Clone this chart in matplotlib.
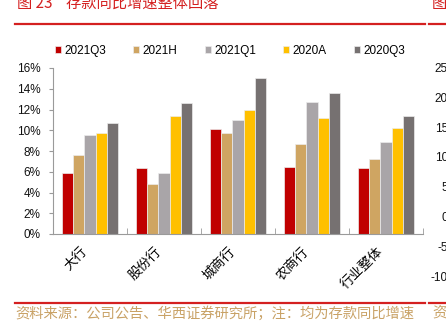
import numpy as np
import matplotlib
matplotlib.use("Agg")
import matplotlib.pyplot as plt
from matplotlib.lines import Line2D
from matplotlib.ticker import FuncFormatter

plt.rcParams['font.family'] = ['Liberation Sans', 'Noto Sans CJK SC', 'DejaVu Sans']

# 数据（存款同比增速）
categories = ['大行', '股份行', '城商行', '农商行', '行业整体']
series_names = ['2021Q3', '2021H', '2021Q1', '2020A', '2020Q3']
v_2021q3 = [0.0592, 0.0634, 0.1014, 0.0644, 0.0634]
v_2021h = [0.0766, 0.0486, 0.0975, 0.0872, 0.0724]
v_2021q1 = [0.0950, 0.0592, 0.1098, 0.1272, 0.0889]
v_2020a = [0.0972, 0.1133, 0.1198, 0.1117, 0.1024]
v_2020q3 = [0.1069, 0.1262, 0.1504, 0.1359, 0.1137]
colors = ['#C00000', '#CFA562', '#A9A5A8', '#FFC000', '#767171']

# 右侧相邻图表的残留刻度
neighbor_ticks = ['25', '20', '15', '10', '5', '0', '-5', '-10']

W, H = 446, 324
fig = plt.figure(figsize=(W / 100, H / 100), dpi=100)
ax = fig.add_axes([53 / W, 1 - 234 / H, 370 / W, 166 / H])

x = np.arange(len(categories))
width = 0.153
all_vals = [v_2021q3, v_2021h, v_2021q1, v_2020a, v_2020q3]
for i, (name, vals, c) in enumerate(zip(series_names, all_vals, colors)):
    ax.bar(x + (i - 2) * width, vals, width, color=c, edgecolor='#ececec',
           linewidth=0.5, label=name)

ax.set_xlim(-0.5, len(categories) - 0.5)
ax.set_ylim(0, 0.16)
ax.set_yticks(np.arange(0, 0.161, 0.02))
ax.yaxis.set_major_formatter(FuncFormatter(lambda v, p: f'{v * 100:.0f}%'))
ax.tick_params(axis='y', direction='out', length=3, color='#9a9a9a',
               labelsize=8.5, pad=6, labelcolor='#111111')

ax.set_xticks(x)
ax.set_xticklabels(categories, rotation=45, ha='right', va='top',
                   fontsize=9.5, family=['Noto Sans CJK SC'])
ax.tick_params(axis='x', which='major', length=0, pad=8)
ax.set_xticks(np.arange(-0.5, len(categories)), minor=True)
ax.tick_params(axis='x', which='minor', direction='in', length=4, color='#9a9a9a')

for s in ['top', 'right']:
    ax.spines[s].set_visible(False)
for s in ['left', 'bottom']:
    ax.spines[s].set_color('#9a9a9a')
    ax.spines[s].set_linewidth(0.8)

ax.legend(loc='center', bbox_to_anchor=(230 / W, 1 - 51 / H),
          bbox_transform=fig.transFigure, ncol=5, frameon=False,
          fontsize=8.5, handlelength=0.5, handleheight=0.5,
          handletextpad=0.3, columnspacing=2.3)

# 标题与分隔线
red = '#D42020'
fig.text(17 / W, 1 - 8 / H, '图 23    存款同比增速整体回落', color=red,
         fontsize=11, family=['Noto Sans CJK SC'], va='baseline', ha='left',
         style='italic')
fig.text(432 / W, 1 - 8 / H, '图', color=red, fontsize=11,
         family=['Noto Sans CJK SC'], va='baseline', ha='left')
fig.add_artist(Line2D([15 / W, 425 / W], [1 - 24 / H] * 2, color=red, lw=1.6,
                      transform=fig.transFigure))
fig.add_artist(Line2D([429 / W, 1], [1 - 24 / H] * 2, color=red, lw=1.6,
                      transform=fig.transFigure))
fig.add_artist(Line2D([15 / W, 425 / W], [1 - 303 / H] * 2, color=red, lw=1.6,
                      transform=fig.transFigure))
fig.add_artist(Line2D([429 / W, 1], [1 - 303 / H] * 2, color=red, lw=1.6,
                      transform=fig.transFigure))

# 相邻图表的右侧刻度（被裁切）
for k, t in enumerate(neighbor_ticks):
    fig.text(448 / W, 1 - (69 + 29.8 * k) / H, t, fontsize=8.5, ha='right',
             va='center', color='#111111')

# 资料来源
src = '资料来源：公司公告、华西证券研究所；注：均为存款同比增速'
fig.text(15 / W, 1 - 313 / H, src, color='#C9A266', fontsize=10.3,
         family=['Noto Sans CJK SC'], va='center', ha='left')
fig.text(432 / W, 1 - 313 / H, '资', color='#C9A266', fontsize=10.3,
         family=['Noto Sans CJK SC'], va='center', ha='left')

fig.savefig('out.png', dpi=100)
